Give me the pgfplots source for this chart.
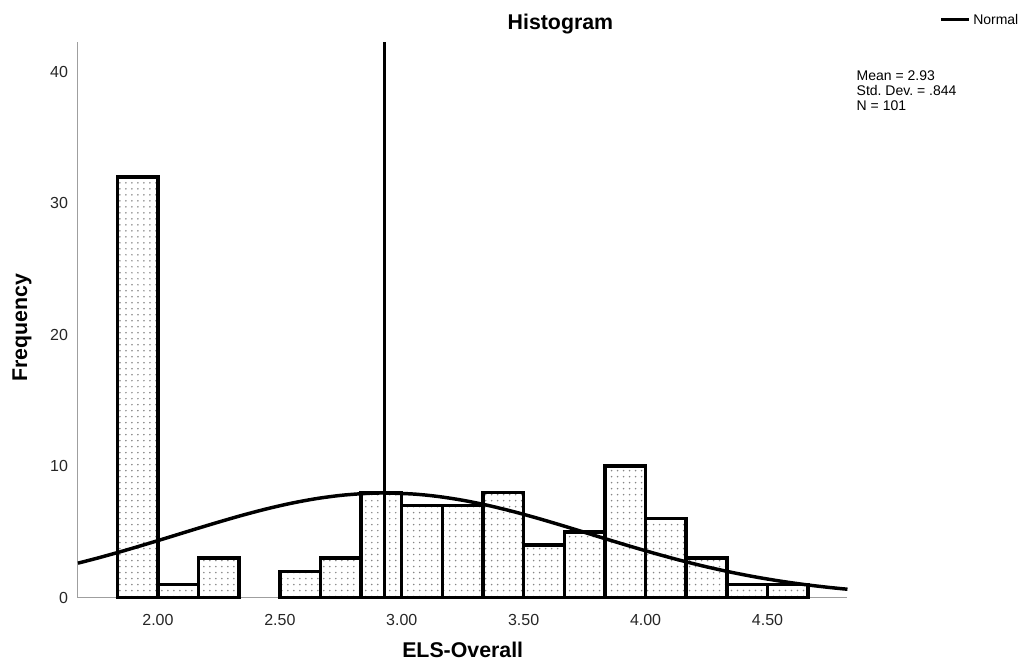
\documentclass[border=0pt]{standalone}
\usepackage{fontspec}
\setmainfont{Liberation Sans}
\usepackage{pgfplots}
\pgfplotsset{compat=1.18}
\usetikzlibrary{patterns.meta}
\frenchspacing
\begin{document}
\begin{tikzpicture}
\begin{axis}[
  scale only axis, width=577.5pt, height=417pt,
  xmin=1.672, xmax=4.828, ymin=0, ymax=42.28,
  axis x line=bottom, axis y line=left,
  axis line style={gray!75, line width=0.8pt, -},
  xtick={2,2.5,3,3.5,4,4.5},
  xticklabels={2.00,2.50,3.00,3.50,4.00,4.50},
  ytick={0,10,20,30,40},
  major tick length=0pt,
  /pgf/number format/assume math mode=true,
  tick label style={font=\fontsize{12}{14}\selectfont, text=black!85},
  xticklabel style={yshift=-9pt},
  yticklabel style={xshift=-4pt},
  xlabel={ELS-Overall}, ylabel={Frequency},
  label style={font=\bfseries\fontsize{16}{19}\selectfont},
  xlabel style={at={(axis description cs:0.5,-0.0935)}, anchor=center},
  ylabel style={at={(axis description cs:-0.0727,0.4856)}, anchor=center},
  title={Histogram},
  title style={at={(axis description cs:0.627,1.018)}, anchor=center, font=\bfseries\fontsize{16}{19}\selectfont},
  clip=false,
  legend style={at={(axis description cs:1.1195,1.0396)}, anchor=west, draw=none, fill=none,
    font=\fontsize{10.5}{12}\selectfont, inner xsep=0pt, inner ysep=0pt},
  legend image code/.code={\draw[#1, line width=2.2pt] (0pt,0pt) -- (21pt,0pt);},
]
\path (axis description cs:-0.1013,-0.1169) rectangle (axis description cs:1.2247,1.0755);
\addplot[ybar interval=0.96, draw=black, line width=2.6pt, pattern={Dots[distance=4.5pt, radius=0.65pt]}, pattern color=gray!95, forget plot]
  coordinates {(1.8333,32) (2.0,1) (2.1667,3) (2.3333,0)};
\addplot[ybar interval=0.96, draw=black, line width=2.6pt, pattern={Dots[distance=4.5pt, radius=0.65pt]}, pattern color=gray!95, forget plot]
  coordinates {(2.5,2) (2.6667,3) (2.8333,8) (3.0,7) (3.1667,7) (3.3333,8) (3.5,4) (3.6667,5) (3.8333,10) (4.0,6) (4.1667,3) (4.3333,1) (4.5,1) (4.6667,0)};
\addplot[black, line width=2pt, forget plot] coordinates {(2.93,0) (2.93,42.28)};
\addplot[black, line width=2.6pt, smooth] coordinates {
(1.672,2.620) (1.75,2.994) (1.85,3.509) (1.95,4.055) (2.05,4.620) (2.15,5.192)
(2.25,5.751) (2.35,6.284) (2.45,6.769) (2.55,7.190) (2.65,7.531) (2.75,7.778)
(2.85,7.921) (2.93,7.957) (3.05,7.877) (3.15,7.691) (3.25,7.405) (3.35,7.030)
(3.45,6.581) (3.55,6.075) (3.65,5.530) (3.75,4.963) (3.85,4.393) (3.95,3.834)
(4.05,3.299) (4.15,2.799) (4.25,2.342) (4.35,1.932) (4.45,1.572) (4.55,1.261)
(4.65,0.997) (4.75,0.778) (4.828,0.635)};
\addlegendentry{Normal}
\node[anchor=north west, align=left, inner sep=0pt, font=\fontsize{10.5}{11.3}\selectfont]
  at (axis description cs:1.0117,0.948) {Mean = 2.93\\Std. Dev. = .844\\N = 101};
\end{axis}
\end{tikzpicture}
\end{document}
